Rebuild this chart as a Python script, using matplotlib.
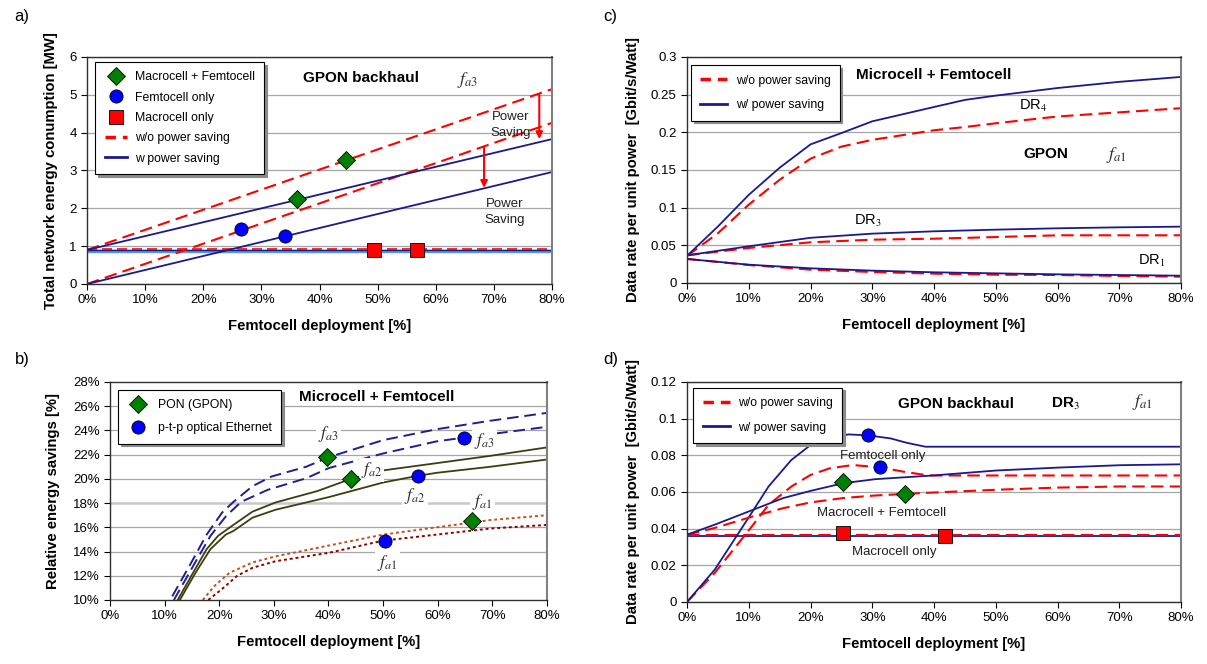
import matplotlib
matplotlib.use("Agg")
import matplotlib.pyplot as plt
from matplotlib.lines import Line2D
from matplotlib.ticker import FuncFormatter, MultipleLocator

plt.rcParams['font.family'] = 'Liberation Sans'
plt.rcParams['font.size'] = 9
plt.rcParams['mathtext.fontset'] = 'stix'

RED = '#ff0000'
NAVY = '#1a1a8c'
DASH = (0, (6, 3))

# ---------------- a) total network energy consumption ----------------
a_x = [0, 80]
a_wo_mf = [0.9, 5.15]      # w/o power saving, macro + femto
a_wo_f = [0.0, 4.26]       # w/o power saving, femto only
a_w_mf = [0.9, 3.83]
a_w_f = [0.0, 2.96]
a_macro_wo = [0.92, 0.92]
a_macro_w = [0.90, 0.90]
a_mf_pts_x = [36.1, 44.6]
a_mf_pts_y = [2.25, 3.28]
a_f_pts_x = [26.5, 34.1]
a_f_pts_y = [1.45, 1.28]
a_m_pts_x = [49.3, 56.8]
a_m_pts_y = [0.91, 0.91]

# ---------------- c) data rate per unit power, microcell + femtocell ----------------
c_x = [0, 5, 10, 15, 20, 25, 30, 40, 45, 50, 60, 70, 80]
c_dr4_w = [0.036, 0.075, 0.117, 0.153, 0.184, 0.199, 0.2146, 0.2336, 0.243, 0.2487, 0.2588, 0.267, 0.2735]
c_dr4_wo = [0.036, 0.066, 0.104, 0.137, 0.165, 0.181, 0.190, 0.2027, 0.207, 0.212, 0.221, 0.2265, 0.232]
c_x2 = [0, 10, 20, 30, 40, 50, 60, 70, 80]
c_dr3_w = [0.0367, 0.0487, 0.060, 0.0655, 0.0686, 0.0708, 0.0726, 0.0739, 0.0748]
c_dr3_wo = [0.0367, 0.0465, 0.054, 0.0575, 0.0588, 0.061, 0.0633, 0.0633, 0.0633]
c_dr1_w = [0.0319, 0.0243, 0.0195, 0.0164, 0.0142, 0.0128, 0.0115, 0.0106, 0.0097]
c_dr1_wo = [0.0319, 0.0239, 0.0177, 0.0146, 0.0124, 0.011, 0.0106, 0.0093, 0.0084]

# ---------------- b) relative energy savings ----------------
b_fa3_pon_x = [11.4, 14.9, 17.7, 20.5, 22.6, 26.1, 29.6, 35.9, 40.1, 50, 59.8, 69.6, 80]
b_fa3_pon_y = [10.3, 13.1, 15.4, 17.2, 18.1, 19.4, 20.2, 21.0, 21.8, 23.2, 24.1, 24.8, 25.45]
b_fa3_ptp_x = [11.7, 15.6, 18.4, 21.2, 24.0, 28.9, 35.9, 40.1, 50, 59.8, 64.7, 80]
b_fa3_ptp_y = [10.0, 13.1, 15.3, 16.9, 18.1, 19.1, 20.05, 20.9, 22.1, 23.1, 23.4, 24.3]
b_fa2_pon_x = [12.4, 14.9, 17.7, 19.8, 22.6, 26.1, 30.3, 38.0, 44.1, 50, 59.8, 69.6, 80]
b_fa2_pon_y = [10.0, 12.0, 14.2, 15.3, 16.2, 17.3, 18.05, 19.0, 20.0, 20.7, 21.3, 21.9, 22.6]
b_fa2_ptp_x = [12.8, 15.6, 18.4, 21.2, 22.6, 26.1, 30.3, 40.1, 50, 56.3, 59.8, 69.6, 80]
b_fa2_ptp_y = [10.0, 12.2, 14.2, 15.4, 15.7, 16.8, 17.45, 18.5, 19.7, 20.25, 20.5, 21.0, 21.6]
b_fa1_pon_x = [17.0, 19.1, 21.9, 26.1, 30.3, 40.1, 50, 59.8, 69.6, 80]
b_fa1_pon_y = [10.0, 11.15, 12.25, 13.1, 13.6, 14.5, 15.4, 16.0, 16.6, 17.0]
b_fa1_ptp_x = [18.0, 20.5, 23.3, 26.1, 30.3, 40.1, 50, 59.8, 69.6, 80]
b_fa1_ptp_y = [10.0, 10.9, 12.0, 12.66, 13.2, 13.9, 14.9, 15.4, 15.9, 16.2]
b_pon_pts_x = [39.8, 44.1, 66.2]
b_pon_pts_y = [21.8, 20.0, 16.5]
b_ptp_pts_x = [64.8, 56.3, 50.3]
b_ptp_pts_y = [23.4, 20.25, 14.9]

# ---------------- d) data rate per unit power, GPON backhaul DR3 ----------------
d_f_w_x = [0, 4.5, 10.1, 13.2, 16.9, 20, 23.1, 26.2, 29.3, 33, 35.5, 38.6, 80]
d_f_w_y = [0, 0.0177, 0.0467, 0.063, 0.0775, 0.0856, 0.0901, 0.0914, 0.0909, 0.0892, 0.0869, 0.0847, 0.0847]
d_f_wo_x = [0, 4.5, 10.1, 13.2, 16.9, 20, 23.1, 26.8, 31.2, 35.5, 39.2, 80]
d_f_wo_y = [0, 0.0159, 0.0395, 0.053, 0.063, 0.0693, 0.0729, 0.0747, 0.0735, 0.0708, 0.069, 0.069]
d_mf_x = [0, 4.5, 10.7, 15.6, 20, 25.3, 30.5, 39.8, 50, 60, 70, 80]
d_mf_w_y = [0.0367, 0.0422, 0.0503, 0.0567, 0.0606, 0.0648, 0.067, 0.069, 0.0717, 0.0733, 0.0746, 0.0751]
d_mf_wo_y = [0.0367, 0.0404, 0.0467, 0.0512, 0.0543, 0.0567, 0.0581, 0.0597, 0.0612, 0.0624, 0.063, 0.063]
d_m_x = [0, 80]
d_m_w_y = [0.0362, 0.0362]
d_m_wo_y = [0.0365, 0.0365]
d_f_pts_x = [29.3, 31.2]
d_f_pts_y = [0.0909, 0.0737]
d_mf_pts_x = [25.3, 35.3]
d_mf_pts_y = [0.0652, 0.0588]
d_m_pts_x = [25.3, 41.7]
d_m_pts_y = [0.0376, 0.0358]

xticks = [0, 10, 20, 30, 40, 50, 60, 70, 80]

fig = plt.figure(figsize=(12.07, 6.64), dpi=100)
ax_a = fig.add_axes([0.0721, 0.5723, 0.3853, 0.3419])
ax_c = fig.add_axes([0.5692, 0.5738, 0.4093, 0.3404])
ax_b = fig.add_axes([0.0911, 0.0964, 0.3621, 0.3283])
ax_d = fig.add_axes([0.5692, 0.0934, 0.4093, 0.3313])

LBL = dict(fontsize=10.7, fontweight='bold')


def style(ax, ylim, ystep, yfmt):
    ax.set_xlim(0, 80)
    ax.set_ylim(*ylim)
    ax.set_xticks(xticks)
    ax.xaxis.set_major_formatter(FuncFormatter(lambda v, p: f"{v:.0f}%"))
    ax.yaxis.set_major_locator(MultipleLocator(ystep))
    ax.yaxis.set_major_formatter(FuncFormatter(yfmt))
    ax.yaxis.grid(True, color='#a6a6a6', lw=0.9)
    ax.set_axisbelow(True)
    ax.tick_params(direction='out', length=4, width=0.8, labelsize=9.5, color='black')
    for s in ax.spines.values():
        s.set_color('#303030')
        s.set_linewidth(1.0)
    ax.spines['right'].set_color('#808080')
    ax.spines['right'].set_linewidth(1.5)
    ax.set_xlabel("Femtocell deployment [%]", labelpad=9, **LBL)


def leg(ax, handles, labels, anchor, spacing, hl=1.8):
    lg = ax.legend(handles, labels, loc='upper left', bbox_to_anchor=anchor,
                   borderaxespad=0, fancybox=False, edgecolor='black', framealpha=1,
                   fontsize=8.8, labelspacing=spacing, borderpad=0.75,
                   handlelength=hl, handletextpad=0.7,
                   shadow={'color': '0.55', 'alpha': 1})
    lg.get_frame().set_linewidth(0.8)
    return lg


def num(v, p):
    return f"{v:g}"


mk = dict(markeredgecolor='black', markeredgewidth=0.6, linestyle='none', zorder=5)
MS = 9.5

# ---- a ----
style(ax_a, (0, 6), 1, num)
ax_a.plot(a_x, [v - 0.02 for v in a_macro_w], color='#5b9bd5', lw=2.5)
ax_a.plot(a_x, a_macro_w, color=NAVY, lw=1.0)
ax_a.plot(a_x, a_macro_wo, color=RED, lw=1.2, ls=DASH)
ax_a.plot(a_x, a_wo_mf, color=RED, lw=1.5, ls=DASH)
ax_a.plot(a_x, a_wo_f, color=RED, lw=1.5, ls=DASH)
ax_a.plot(a_x, a_w_mf, color=NAVY, lw=1.3)
ax_a.plot(a_x, a_w_f, color=NAVY, lw=1.3)
ax_a.plot(a_mf_pts_x, a_mf_pts_y, marker='D', ms=MS, color='#008000', **mk)
ax_a.plot(a_f_pts_x, a_f_pts_y, marker='o', ms=MS, color='#0000ff', **mk)
ax_a.plot(a_m_pts_x, a_m_pts_y, marker='s', ms=MS, color=RED, **mk)
arr = dict(arrowstyle='-|>', color=RED, lw=1.5, mutation_scale=10, shrinkA=0, shrinkB=0)
ax_a.annotate('', xy=(77.8, 3.83), xytext=(77.8, 5.0), arrowprops=arr)
ax_a.annotate('', xy=(68.3, 2.54), xytext=(68.3, 3.62), arrowprops=arr)
ax_a.text(72.9, 4.2, "Power\nSaving", ha='center', va='center', fontsize=9.5, color='#202020', linespacing=1.4)
ax_a.text(71.9, 1.9, "Power\nSaving", ha='center', va='center', fontsize=9.5, color='#202020', linespacing=1.4)
ax_a.text(47.2, 5.45, "GPON backhaul", ha='center', va='center', fontsize=11, fontweight='bold')
ax_a.text(65.4, 5.4, r"$f_{a3}$", ha='center', va='center', fontsize=13, color='#303030')
ax_a.set_ylabel("Total network energy conumption [MW]", labelpad=8, **LBL)
h_a = [Line2D([], [], marker='D', ms=MS, color='#008000', **mk),
       Line2D([], [], marker='o', ms=MS, color='#0000ff', **mk),
       Line2D([], [], marker='s', ms=MS, color=RED, **mk),
       Line2D([], [], color=RED, lw=2.5, ls=(0, (3, 2))),
       Line2D([], [], color=NAVY, lw=2)]
leg(ax_a, h_a, ["Macrocell + Femtocell", "Femtocell only", "Macrocell only",
                "w/o power saving", "w power saving"], (0.018, 0.977), 0.68)

# ---- c ----
style(ax_c, (0, 0.3), 0.05, num)
ax_c.plot(c_x, c_dr4_wo, color=RED, lw=1.5, ls=DASH)
ax_c.plot(c_x, c_dr4_w, color=NAVY, lw=1.3)
ax_c.plot(c_x2, c_dr3_wo, color=RED, lw=1.5, ls=DASH)
ax_c.plot(c_x2, c_dr3_w, color=NAVY, lw=1.3)
ax_c.plot(c_x2, c_dr1_wo, color=RED, lw=1.5, ls=DASH)
ax_c.plot(c_x2, c_dr1_w, color=NAVY, lw=1.3)
ax_c.text(56, 0.235, r"DR$_4$", ha='center', va='center', fontsize=10.5)
ax_c.text(29.3, 0.082, r"DR$_3$", ha='center', va='center', fontsize=10.5)
ax_c.text(75.2, 0.0296, r"DR$_1$", ha='center', va='center', fontsize=10.5)
ax_c.text(58.1, 0.1717, "GPON", ha='center', va='center', fontsize=11, fontweight='bold')
ax_c.text(69.6, 0.170, r"$f_{a1}$", ha='center', va='center', fontsize=13, color='#303030')
ax_c.text(40, 0.2765, "Microcell + Femtocell", ha='center', va='center', fontsize=11, fontweight='bold')
ax_c.set_ylabel("Data rate per unit power  [Gbit/s/Watt]", labelpad=8, **LBL)
h_c = [Line2D([], [], color=RED, lw=2.5, ls=(0, (3, 2))), Line2D([], [], color=NAVY, lw=2)]
leg(ax_c, h_c, ["w/o power saving", "w/ power saving"], (0.008, 0.963), 1.05, hl=2.2)

# ---- b ----
style(ax_b, (10, 28), 2, lambda v, p: f"{v:.0f}%")
ax_b.yaxis.grid(False)
for g in [12, 14, 16, 20, 22, 24, 26]:
    ax_b.axhline(g, color='#a6a6a6', lw=0.9, zorder=0)
ax_b.axhline(18, color='#c8c8c8', lw=1.8, zorder=0)
ax_b.plot(b_fa3_pon_x, b_fa3_pon_y, color='#1f1f8f', lw=1.4, ls=(0, (6, 3)))
ax_b.plot(b_fa3_ptp_x, b_fa3_ptp_y, color='#1f1f8f', lw=1.4, ls=(0, (6, 3)))
ax_b.plot(b_fa2_pon_x, b_fa2_pon_y, color='#3d3d12', lw=1.3)
ax_b.plot(b_fa2_ptp_x, b_fa2_ptp_y, color='#3d3d12', lw=1.3)
ax_b.plot(b_fa1_pon_x, b_fa1_pon_y, color='#c0501a', lw=1.4, ls=(0, (1.5, 1.5)))
ax_b.plot(b_fa1_ptp_x, b_fa1_ptp_y, color='#8b0000', lw=1.4, ls=(0, (1.5, 1.5)))
ax_b.plot(b_pon_pts_x, b_pon_pts_y, marker='D', ms=MS, color='#008000', **mk)
ax_b.plot(b_ptp_pts_x, b_ptp_pts_y, marker='o', ms=MS, color='#0000ff', **mk)
wbox = dict(facecolor='white', edgecolor='none', pad=1.5)
for tx, ty, s in [(40, 23.7, r"$f_{a3}$"), (68.6, 23.15, r"$f_{a3}$"),
                  (47.9, 20.7, r"$f_{a2}$"), (55.8, 18.55, r"$f_{a2}$"),
                  (68.2, 18.1, r"$f_{a1}$"), (50.8, 13.07, r"$f_{a1}$")]:
    ax_b.text(tx, ty, s, ha='center', va='center', fontsize=12.5, color='#303030', bbox=wbox, zorder=4)
ax_b.text(48.9, 26.75, "Microcell + Femtocell", ha='center', va='center', fontsize=11, fontweight='bold')
ax_b.set_ylabel("Relative energy savings [%]", labelpad=9, **LBL)
h_b = [Line2D([], [], marker='D', ms=MS, color='#008000', **mk),
       Line2D([], [], marker='o', ms=MS, color='#0000ff', **mk)]
lb = leg(ax_b, h_b, ["PON (GPON)", "p-t-p optical Ethernet"], (0.019, 0.965), 0.95)
lb.set_zorder(6)

# ---- d ----
style(ax_d, (0, 0.12), 0.02, num)
ax_d.plot(d_m_x, d_m_w_y, color=NAVY, lw=1.3)
ax_d.plot(d_m_x, d_m_wo_y, color=RED, lw=1.5, ls=DASH)
ax_d.plot(d_f_wo_x, d_f_wo_y, color=RED, lw=1.5, ls=DASH)
ax_d.plot(d_f_w_x, d_f_w_y, color=NAVY, lw=1.3)
ax_d.plot(d_mf_x, d_mf_wo_y, color=RED, lw=1.5, ls=DASH)
ax_d.plot(d_mf_x, d_mf_w_y, color=NAVY, lw=1.3)
ax_d.plot(d_f_pts_x, d_f_pts_y, marker='o', ms=MS, color='#0000ff', **mk)
ax_d.plot(d_mf_pts_x, d_mf_pts_y, marker='D', ms=MS, color='#008000', **mk)
ax_d.plot(d_m_pts_x, d_m_pts_y, marker='s', ms=MS, color=RED, **mk)
ax_d.text(31.7, 0.0796, "Femtocell only", ha='center', va='center', fontsize=9.5, color='#202020')
ax_d.text(31.5, 0.0485, "Macrocell + Femtocell", ha='center', va='center', fontsize=9.5, color='#202020')
ax_d.text(33.6, 0.0272, "Macrocell only", ha='center', va='center', fontsize=9.5, color='#202020')
ax_d.text(43.6, 0.108, "GPON backhaul", ha='center', va='center', fontsize=11, fontweight='bold')
ax_d.text(61.3, 0.108, r"DR$_3$", ha='center', va='center', fontsize=11, fontweight='bold')
ax_d.text(73.7, 0.109, r"$f_{a1}$", ha='center', va='center', fontsize=13, color='#303030')
ax_d.set_ylabel("Data rate per unit power  [Gbit/s/Watt]", labelpad=8, **LBL)
leg(ax_d, h_c, ["w/o power saving", "w/ power saving"], (0.013, 0.974), 1.05, hl=2.2)

fig.text(0.012, 0.975, "a)", fontsize=12, va='center')
fig.text(0.500, 0.975, "c)", fontsize=12, va='center')
fig.text(0.012, 0.458, "b)", fontsize=12, va='center')
fig.text(0.500, 0.458, "d)", fontsize=12, va='center')

fig.savefig("out.png", dpi=100)
